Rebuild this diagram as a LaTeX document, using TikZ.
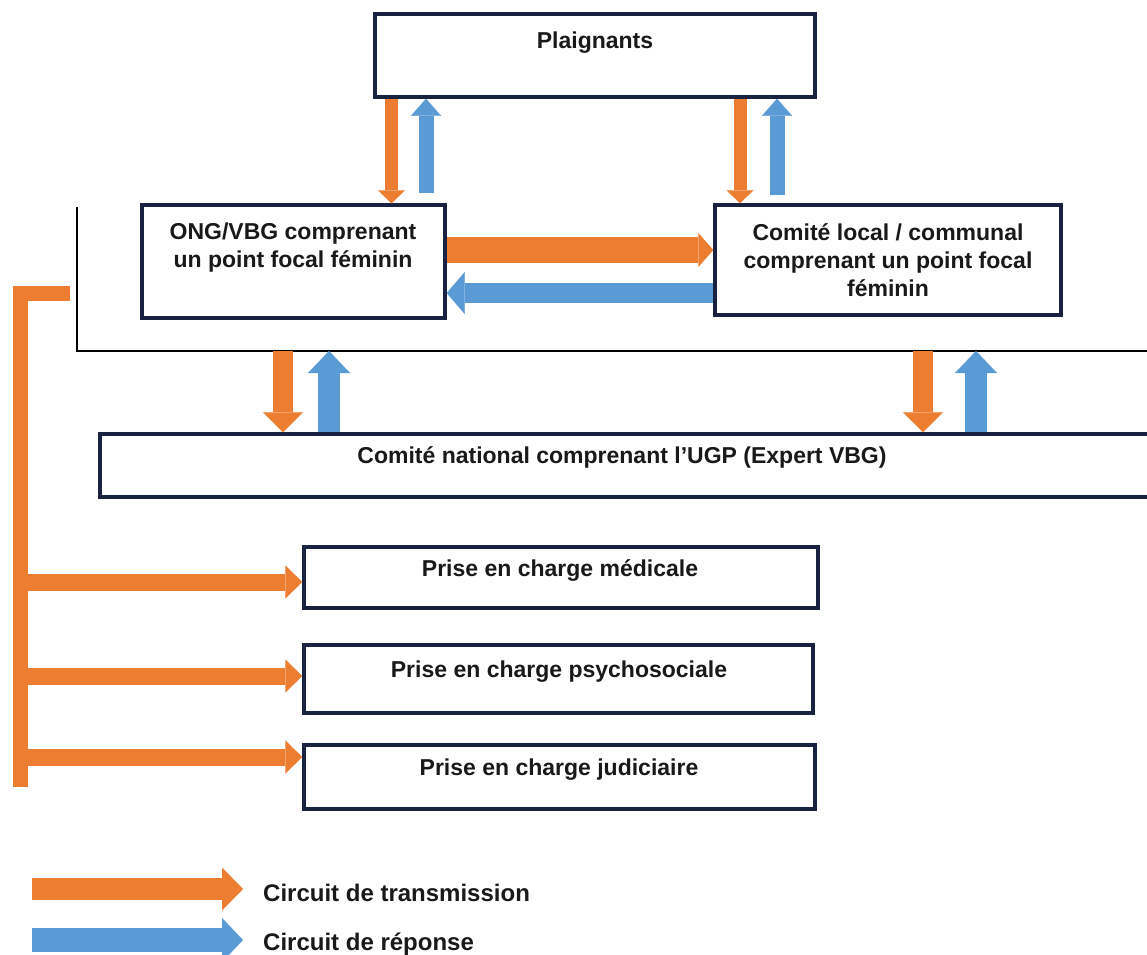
\documentclass[tikz,border=0pt]{standalone}
\usepackage{fontspec}
\setmainfont{Liberation Sans}
\usetikzlibrary{arrows.meta}
\definecolor{torange}{HTML}{ED7D31}
\definecolor{rblue}{HTML}{5B9BD5}
\definecolor{navy}{HTML}{1A2242}
\begin{document}
\begin{tikzpicture}[x=1pt,y=-1pt,
  font=\bfseries\fontsize{23}{28}\selectfont,
  box/.style={draw=navy, line width=3.5pt, fill=white, inner sep=0pt},
  lbl/.style={align=center, inner sep=0pt, text=black!90},
  flow/.style n args={4}{draw=#1, line width=#2, -{Triangle[width=#3, length=#4, line width=0.1pt]}},
]
\useasboundingbox (0,0) rectangle (1147,954);
\clip (0,0) rectangle (1147,954);

% boxes
\node[box, minimum width=440pt, minimum height=83pt] (plg) at (595,55.5) {};
\node[box, minimum width=303pt, minimum height=113pt] (ong) at (293.5,261.5) {};
\node[box, minimum width=346pt, minimum height=110pt] (cl) at (888,260) {};
\node[box, minimum width=1100pt, minimum height=63pt] (nat) at (650,465.5) {};
\node[box, minimum width=514pt, minimum height=61pt] (med) at (561,577.5) {};
\node[box, minimum width=509pt, minimum height=68pt] (psy) at (558.5,679) {};
\node[box, minimum width=511pt, minimum height=64pt] (jud) at (559.5,777) {};

% texts
\node[lbl, anchor=base] (tplg) at (595,48) {Plaignants};
\node[lbl] (tong) at (293,248) {ONG/VBG comprenant\\un point focal féminin};
\node[lbl] (tcl) at (888,260) {Comité local / communal\\comprenant un point focal\\féminin};
\node[lbl, anchor=base] (tnat) at (622,463) {Comité national comprenant l’UGP (Expert VBG)};
\node[lbl, anchor=base] (tmed) at (560,576) {Prise en charge médicale};
\node[lbl, anchor=base] (tpsy) at (559,677) {Prise en charge psychosociale};
\node[lbl, anchor=base] (tjud) at (559,775) {Prise en charge judiciaire};
\node[lbl, anchor=base west, font=\bfseries\fontsize{24}{28}\selectfont] (lt1) at (263,901) {Circuit de transmission};
\node[lbl, anchor=base west, font=\bfseries\fontsize{24}{28}\selectfont] (lt2) at (263,950) {Circuit de réponse};

% black frame line
\coordinate (btop) at (77,207);
\coordinate (bl) at (77,351);
\coordinate (br) at (1147,351);
\draw[line width=2.2pt, line join=miter] (btop) -- (bl) -- (br);

% top vertical arrows
\draw[flow={torange}{13pt}{27pt}{13pt}] (plg.south -| 391.5,0) -- (ong.north -| 391.5,0);
\draw[flow={rblue}{15pt}{30pt}{17pt}] ([yshift=10pt]ong.north -| 426,0) -- (plg.south -| 426,0);
\draw[flow={torange}{13pt}{27pt}{13pt}] (plg.south -| 740,0) -- (cl.north -| 740,0);
\draw[flow={rblue}{15pt}{30pt}{17pt}] ([yshift=8pt]cl.north -| 777,0) -- (plg.south -| 777,0);

% horizontal arrows between ONG and comité local
\draw[flow={torange}{26pt}{34pt}{15pt}] (ong.east |- 0,250) -- (cl.west |- 0,250);
\draw[flow={rblue}{20pt}{42pt}{18pt}] (cl.west |- 0,293) -- (ong.east |- 0,293);

% lower vertical arrows
\draw[flow={torange}{20pt}{40pt}{20pt}] (bl -| 283,0) -- (nat.north -| 283,0);
\draw[flow={rblue}{22pt}{42pt}{22pt}] (nat.north -| 329,0) -- (bl -| 329,0);
\draw[flow={torange}{20pt}{40pt}{20pt}] (bl -| 923,0) -- (nat.north -| 923,0);
\draw[flow={rblue}{22pt}{42pt}{22pt}] (nat.north -| 976,0) -- (bl -| 976,0);

% orange bracket
\coordinate (bt) at (70,293.5);
\coordinate (bc) at (20,293.5);
\coordinate (bb) at (20,787);
\coordinate (bar) at (27,0);
\draw[torange, line width=15pt, line join=miter] (bt) -- (bc) -- (bb);
\draw[flow={torange}{17pt}{33pt}{17pt}] (bar |- 0,582) -- (med.west |- 0,582);
\draw[flow={torange}{17pt}{33pt}{17pt}] (bar |- 0,676) -- (psy.west |- 0,676);
\draw[flow={torange}{17pt}{33pt}{17pt}] (bar |- 0,757) -- (jud.west |- 0,757);

% legend
\coordinate (lo1) at (32,889);
\coordinate (lo2) at (243,889);
\coordinate (lb1) at (32,940);
\coordinate (lb2) at (243,940);
\draw[flow={torange}{22pt}{43pt}{21pt}] (lo1) -- (lo2);
\draw[flow={rblue}{24pt}{44pt}{21pt}] (lb1) -- (lb2);
\end{tikzpicture}
\end{document}
